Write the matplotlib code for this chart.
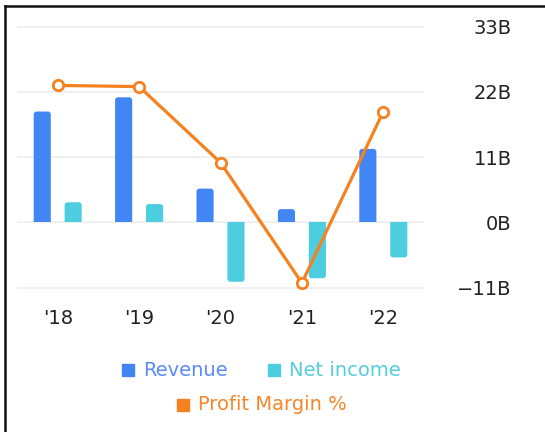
import matplotlib.pyplot as plt
from matplotlib.lines import Line2D
from matplotlib.patches import FancyBboxPatch, Rectangle
import numpy as np

# data
years = ["'18", "'19", "'20", "'21", "'22"]
revenue = [18.7, 21.1, 5.7, 2.25, 12.4]          # B
net_income = [3.4, 3.1, -10.0, -9.4, -5.9]       # B
profit_margin = [23.1, 22.9, 10.1, -10.2, 18.7]  # %
yticks = [-11, 0, 11, 22, 33]

BLUE = "#4285f4"
CYAN = "#4ccde0"
ORANGE = "#f5821f"

plt.rcParams["font.family"] = "DejaVu Sans"

fig = plt.figure(figsize=(5.45, 4.32), dpi=100)
ax = fig.add_axes([0.0312, 0.3134, 0.7468, 0.6454])
ax.set_xlim(-0.5, 4.5)
ax.set_ylim(-12.5, 34.5)

x = np.arange(len(years))
w = 0.21
off = 0.19

# rounded bar ends: round box, clipped at the zero line
rx = 0.035            # corner radius in x units (~3px)
aspect = 0.5 / rx     # y units per x unit for the same pixel radius
for xs, vals, col in ((x - off, revenue, BLUE), (x + off, net_income, CYAN)):
    bars = ax.bar(xs, vals, width=w, color=col, zorder=2)
    for b, v in zip(bars, vals):
        b.set_visible(False)
        ext = 0.6 * np.sign(v)
        y0, h = (-ext, v + ext) if v >= 0 else (v, -v - ext)
        patch = FancyBboxPatch((b.get_x(), min(y0, y0 + h)), b.get_width(), abs(h),
                               boxstyle=f"round,pad=0,rounding_size={rx}",
                               mutation_aspect=aspect, fc=col, ec="none", zorder=2)
        ax.add_patch(patch)
        clip = Rectangle((b.get_x() - 0.1, 0 if v >= 0 else v - 2), b.get_width() + 0.2,
                         abs(v) + 2, transform=ax.transData)
        patch.set_clip_path(clip)

# profit margin shown on a hidden twin axis with the same scale
ax2 = ax.twinx()
ax2.plot(x, profit_margin, color=ORANGE, lw=2.3, marker="o", ms=7.5,
         mfc="white", mec=ORANGE, mew=2.0, zorder=3)

for a in (ax, ax2):
    a.set_xlim(-0.5, 4.5)
    a.set_ylim(-12.5, 34.5)
    for s in a.spines.values():
        s.set_visible(False)
ax2.set_yticks([])

ax.set_yticks(yticks)
ax.set_yticklabels([f"{v}B".replace("-", "\u2212") for v in yticks])
ax.yaxis.tick_right()
ax.grid(axis="y", color="#eeeeee", lw=1.2, zorder=0)
ax.set_axisbelow(True)
ax.tick_params(axis="y", length=0, pad=63, labelsize=14, labelcolor="#222222")
for lbl in ax.get_yticklabels():
    lbl.set_horizontalalignment("right")

ax.set_xticks(x)
ax.set_xticklabels(years)
ax.tick_params(axis="x", length=0, pad=9, labelsize=14, labelcolor="#222222")


def legend_item(xp, yp, color, text, textcolor):
    fig.add_artist(Line2D([xp / 545], [1 - yp / 432], marker="s", ms=9,
                          color=color, ls="none", transform=fig.transFigure))
    fig.text((xp + 15) / 545, 1 - yp / 432, text, color=textcolor,
             fontsize=14, va="center", ha="left")


legend_item(128, 370, BLUE, "Revenue", "#5b8af5")
legend_item(274, 370, CYAN, "Net income", "#55cde0")
legend_item(183, 405, ORANGE, "Profit Margin %", "#f5862a")

# frame lines (top and left only)
fig.add_artist(Line2D([4.5 / 545, 1], [1 - 5.5 / 432, 1 - 5.5 / 432],
                      color="#111111", lw=1.8, transform=fig.transFigure))
fig.add_artist(Line2D([4.5 / 545, 4.5 / 545], [0, 1 - 5.5 / 432],
                      color="#111111", lw=1.8, transform=fig.transFigure))

fig.savefig("out.png", dpi=100)
